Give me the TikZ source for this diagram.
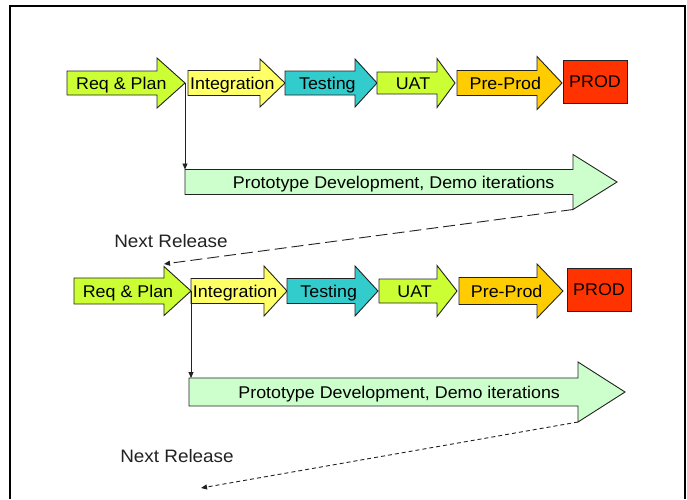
\documentclass[tikz,border=0pt]{standalone}
\usepackage{fontspec}
\setmainfont{Liberation Sans}[FakeStretch=1.05]
\usetikzlibrary{arrows.meta}

\definecolor{limefill}{HTML}{CCFF33}
\definecolor{yellowfill}{HTML}{FFFF66}
\definecolor{tealfill}{HTML}{33CCCC}
\definecolor{amberfill}{HTML}{FFCC00}
\definecolor{prodred}{HTML}{FF3300}
\definecolor{protofill}{HTML}{CCFFCC}
\definecolor{inkgray}{HTML}{222222}

\tikzset{
  stageshape/.style={draw=inkgray, line width=0.9pt, line join=miter},
  stagelabel/.style={font=\fontsize{17}{20}\selectfont, text=black, inner sep=0pt, anchor=base},
  prodbox/.style={draw=inkgray, line width=0.9pt, fill=prodred, minimum width=64pt,
    minimum height=43pt, inner sep=0pt, font=\fontsize{17}{20}\selectfont},
  flowline/.style={draw=inkgray, line width=0.9pt},
  smalltip/.style={-{Triangle[length=6pt,width=5pt]}},
  longdash/.style={flowline, dash pattern=on 12pt off 5pt},
  shortdash/.style={flowline, dash pattern=on 4pt off 3pt},
  releaselabel/.style={font=\fontsize{18}{20}\selectfont, text=inkgray, inner sep=0pt}
}

% #1 name, #2 fill, #3 left x, #4 head base x, #5 tip x,
% #6 centre y, #7 half body height, #8 half head height, #9 label
\newcommand{\stagearrow}[9]{%
  \draw[stageshape, fill=#2] (#3,{#6-#7}) -- (#4,{#6-#7}) -- (#4,{#6-#8}) -- (#5,#6)
    -- (#4,{#6+#8}) -- (#4,{#6+#7}) -- (#3,{#6+#7}) -- cycle;
  \node[stagelabel] (#1) at ({(#3+#4)/2+(#5-#4)/3},{#6+6}) {#9};
  \coordinate (#1-tip) at (#5,#6);
  \coordinate (#1-tl) at (#3,{#6-#7});
  \coordinate (#1-hb) at (#4,{#6+#8});
}

\begin{document}
\begin{tikzpicture}[x=1pt,y=-1pt]
  \useasboundingbox (0,0) rectangle (687,499);
  \fill[white] (0,0) rectangle (687,499);

  % page frame, open at the bottom
  \draw[line width=2.5pt, line join=miter] (10,499) -- (10,6) -- (685,6) -- (685,499);

  % ---- first release ----
  \stagearrow{req1}{limefill}{67}{157}{185}{83}{12}{25}{Req \& Plan}
  \stagearrow{int1}{yellowfill}{188}{260}{285}{83}{12.5}{24}{Integration}
  \stagearrow{test1}{tealfill}{285}{355}{377}{83}{12}{24}{Testing}
  \stagearrow{uat1}{limefill}{377}{437}{455}{83}{11}{24.5}{UAT}
  \stagearrow{pre1}{amberfill}{457}{537}{562}{83}{12.5}{26.5}{Pre-Prod}
  \node[prodbox] (prod1) at (595,81.5) {PROD};

  \stagearrow{proto1}{protofill}{185}{573}{617}{182}{12.5}{27.5}{Prototype Development, Demo iterations}

  \draw[flowline, smalltip] (req1-tip) -- (req1-tip |- proto1-tl);

  \node[releaselabel] (next1) at (171,241) {Next Release};
  \coordinate (back1) at (164,264);
  \draw[longdash, smalltip] (proto1-hb) -- (back1);

  % ---- second release ----
  \stagearrow{req2}{limefill}{74}{164}{191}{291}{13}{24.5}{Req \& Plan}
  \stagearrow{int2}{yellowfill}{191}{264}{287}{291}{12.5}{25}{Integration}
  \stagearrow{test2}{tealfill}{287}{355}{378}{291}{12.5}{25}{Testing}
  \stagearrow{uat2}{limefill}{379}{437}{457}{291}{12}{25.5}{UAT}
  \stagearrow{pre2}{amberfill}{459}{537}{563}{291}{13.5}{27}{Pre-Prod}
  \node[prodbox] (prod2) at (599,290) {PROD};

  \stagearrow{proto2}{protofill}{189}{578}{625}{392}{14}{30}{Prototype Development, Demo iterations}

  \draw[flowline, smalltip] (req2-tip) -- (req2-tip |- proto2-tl);

  \node[releaselabel] (next2) at (177,456) {Next Release};
  \coordinate (back2) at (201,488);
  \draw[shortdash, smalltip] (proto2-hb) -- (back2);
\end{tikzpicture}
\end{document}
